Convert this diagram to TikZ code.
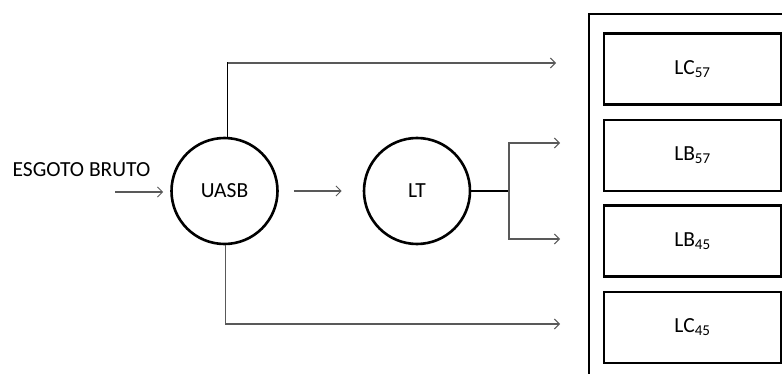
\documentclass[tikz,border=0pt]{standalone}
\usepackage{fontspec}
\setmainfont{Carlito}
\usetikzlibrary{arrows.meta}
\begin{document}
\begin{tikzpicture}[x=1pt,y=-1pt,
  lbl/.style={font=\fontsize{21.5}{24}\selectfont},
  unit/.style={lbl,circle,draw=black,line width=2.6pt,minimum size=106pt,inner sep=0pt},
  tank/.style={lbl,draw=black,line width=2.4pt,minimum width=177pt,minimum height=71pt,inner sep=0pt},
  flow/.style={draw=black!65,line width=1.1pt,-{Straight Barb[length=5pt,width=10pt,line width=1pt]}},
  link/.style={draw=black,line width=1.2pt}]
\useasboundingbox (0,0) rectangle (782,374);
\clip (0,0) rectangle (782,374);
% outer frame
\draw[line width=2.2pt] (589,14) rectangle (800,400);
% tanks
\node[tank] (LC57) at (692.5,69) {LC\textsubscript{57}};
\node[tank] (LB57) at (692.5,155.5) {LB\textsubscript{57}};
\node[tank] (LB45) at (692.5,241) {LB\textsubscript{45}};
\node[tank] (LC45) at (692.5,327.5) {LC\textsubscript{45}};
% units
\node[unit] (UASB) at (224.5,191) {UASB};
\node[unit] (LT) at (417,191) {LT};
\node[lbl,inner sep=0pt] (in) at (81.5,170) {ESGOTO BRUTO};
% free ends
\coordinate (src) at (115,192);
\coordinate (t1) at (556,63);
\coordinate (t2) at (560,143);
\coordinate (t3) at (560,239);
\coordinate (t4) at (560,324);
\coordinate (br) at (509,191);
% connectors
\draw[flow] (src) -- ([xshift=-7pt]UASB.west |- src);
\draw[flow,shorten <=15pt,shorten >=21pt] (UASB) -- (LT);
\draw[link] ([xshift=3pt]UASB.north) |- (228,63) -- ++(1,0);
\draw[flow] ([xshift=3pt]UASB.north |- t1) -- (t1);
\draw[flow] ([xshift=1pt]UASB.south) |- (t4);
\draw[link] (LT.east) -- (br);
\draw[flow] (br) |- (t2);
\draw[flow] (br) |- (t3);
\end{tikzpicture}
\end{document}
